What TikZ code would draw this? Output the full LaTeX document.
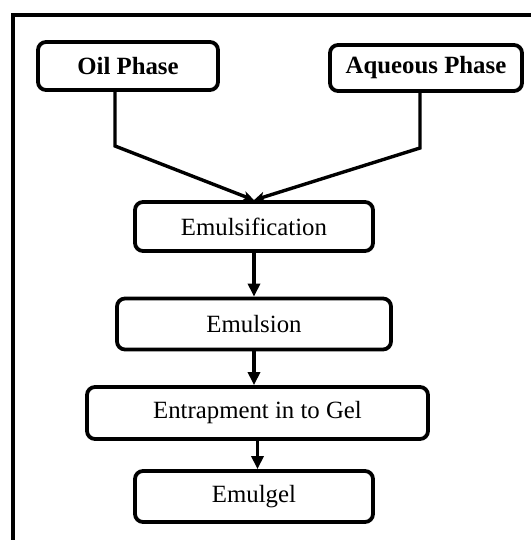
\documentclass[tikz,border=0pt]{standalone}
\usepackage{fontspec}
\setmainfont{Liberation Serif}
\usepackage{tikz}
\usetikzlibrary{positioning,calc,arrows,arrows.meta}

\begin{document}
\begin{tikzpicture}[x=1pt,y=-1pt]
            \tikzstyle{box}=[draw, line width=3.8pt, rounded corners=8pt, inner sep=0pt, font=\fontsize{24.8}{28}\selectfont]
            \tikzstyle{flow}=[line width=3.8pt, -{Triangle[length=13pt,width=12pt]}]
            \tikzstyle{merge}=[line width=3.4pt, -{Stealth[length=11pt,width=10pt,inset=3pt]}]

            \useasboundingbox (0,0) rectangle (531,540);
            \draw[line width=3.2pt] (13,540) -- (13,15) -- (531,15);

            \node[box, minimum width=180pt, minimum height=48pt] (oil) at (128,66) {\textbf{Oil Phase}};
            \node[box, minimum width=192pt, minimum height=46pt] (aqueous) at (426,68) {\textbf{Aqueous Phase}};
            \node[box, minimum width=238pt, minimum height=49pt] (emulsification) at (254,226.5) {Emulsification};
            \node[box, minimum width=274pt, minimum height=51pt] (emulsion) at (254,324) {Emulsion};
            \node[box, minimum width=341pt, minimum height=52pt] (entrapment) at (257.5,413) {Entrapment in to Gel};
            \node[box, minimum width=238pt, minimum height=51pt] (emulgel) at (254,496.5) {Emulgel};

            \coordinate (oilbend) at (115,146);
            \coordinate (aqbend) at (420,148);

            \draw[merge] (oil.south -| oilbend) -- (oilbend) -- (emulsification.north);
            \draw[merge] (aqueous.south -| aqbend) -- (aqbend) -- (emulsification.north);
            \draw[flow] (emulsification.south) -- (emulsion.north);
            \draw[flow] (emulsion.south) -- (emulsion.south |- entrapment.north);
            \draw[flow] (entrapment.south) -- (entrapment.south |- emulgel.north);
        \end{tikzpicture}
\end{document}
